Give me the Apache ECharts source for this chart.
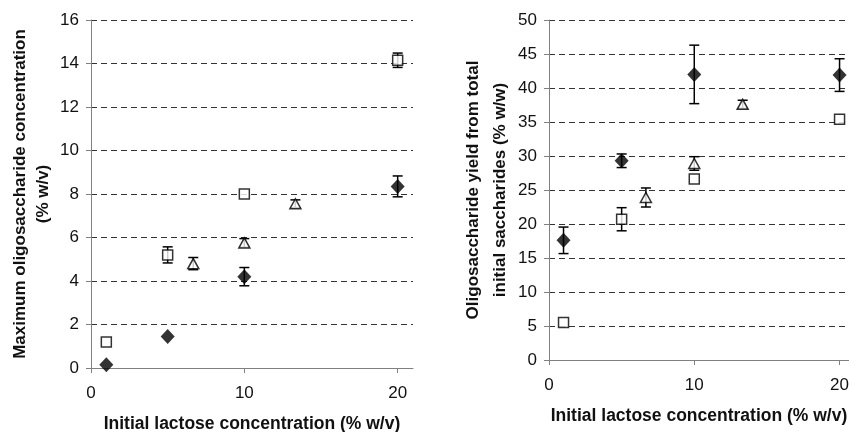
<!DOCTYPE html>
<html><head><meta charset="utf-8">
<script src="https://cdn.jsdelivr.net/npm/echarts@6/dist/echarts.min.js"></script>
<style>html,body{margin:0;padding:0;background:#fff}#c{width:849px;height:432px}</style>
</head><body><div id="c"></div>
<script>
// Data
const lactoseMain = [1, 5, 10, 20];
const lactoseTri = [6.67, 10, 13.33];
const xTickValues = [0, 10, 20];
// Left: maximum oligosaccharide concentration (% w/v)
const leftDiamond = [0.15, 1.45, 4.2, 8.35];
const leftDiamondErr = [0, 0, 0.42, 0.48];
const leftSquare = [1.2, 5.2, 8.0, 14.15];
const leftSquareErr = [0, 0.37, 0, 0.33];
const leftTriangle = [4.8, 5.75, 7.55];
const leftTriangleErr = [0.28, 0.2, 0.18];
// Right: oligosaccharide yield (% w/w)
const rightDiamond = [17.6, 29.3, 42.0, 41.9];
const rightDiamondErr = [1.95, 1.0, 4.3, 2.4];
const rightSquare = [5.5, 20.7, 26.6, 35.4];
const rightSquareErr = [0, 1.7, 0, 0];
const rightTriangle = [23.9, 28.9, 37.6];
const rightTriangleErr = [1.4, 1.0, 0.6];

const zip = (xs, ys, es) => xs.map((x, i) => [x, ys[i], es ? es[i] : 0]);

const FONT = 'Liberation Sans, Arial, sans-serif';

function errSeries(idx, data) {
  return {
    type: 'custom', xAxisIndex: idx, yAxisIndex: idx, z: 1, silent: true,
    data: data.filter(d => d[2] > 0),
    renderItem: function (params, api) {
      const x = api.value(0), y = api.value(1), e = api.value(2);
      const t = api.coord([x, y + e]);
      const b = api.coord([x, y - e]);
      const hw = 5;
      const st = { stroke: '#000', lineWidth: 1.5 };
      return { type: 'group', children: [
        { type: 'line', shape: { x1: t[0], y1: t[1], x2: b[0], y2: b[1] }, style: st },
        { type: 'line', shape: { x1: t[0] - hw, y1: t[1], x2: t[0] + hw, y2: t[1] }, style: st },
        { type: 'line', shape: { x1: b[0] - hw, y1: b[1], x2: b[0] + hw, y2: b[1] }, style: st }
      ]};
    }
  };
}
function scat(idx, data, kind) {
  const s = { type: 'scatter', xAxisIndex: idx, yAxisIndex: idx, z: 3, data: data.map(d => [d[0], d[1]]) };
  if (kind === 'diamond') { s.symbol = 'diamond'; s.symbolSize = [14, 15]; s.itemStyle = { color: '#000' }; }
  if (kind === 'square') { s.symbol = 'rect'; s.symbolSize = 10; s.itemStyle = { color: '#fff', borderColor: '#000', borderWidth: 1.5 }; }
  if (kind === 'triangle') { s.symbol = 'triangle'; s.symbolSize = [11, 10]; s.itemStyle = { color: '#fff', borderColor: '#000', borderWidth: 1.5 }; }
  return s;
}
function xAx(idx, max, gap) {
  return {
    gridIndex: idx, type: 'value', min: 0, max: max,
    name: 'Initial lactose concentration (% w/v)', nameLocation: 'middle', nameGap: gap,
    nameTextStyle: { fontFamily: FONT, fontWeight: 'bold', fontSize: 17.5, color: '#111' },
    axisLine: { lineStyle: { color: '#808080', width: 1 } },
    axisTick: { show: true, customValues: xTickValues, length: 5, inside: false, lineStyle: { color: '#808080' } },
    axisLabel: { customValues: xTickValues, margin: 17, fontFamily: FONT, fontSize: 17, color: '#111' },
    splitLine: { show: false }
  };
}
function yAx(idx, max, interval, name, gap, lh) {
  return {
    gridIndex: idx, type: 'value', min: 0, max: max, interval: interval,
    name: name, nameLocation: 'middle', nameGap: gap, nameRotate: 90,
    nameTextStyle: { fontFamily: FONT, fontWeight: 'bold', fontSize: 17, color: '#111', lineHeight: lh, align: 'center' },
    axisLine: { show: true, lineStyle: { color: '#808080', width: 1 } },
    axisTick: { show: true, length: 5, lineStyle: { color: '#808080' } },
    axisLabel: { margin: 12, fontFamily: FONT, fontSize: 17, color: '#111' },
    splitLine: { show: true, lineStyle: { color: '#333', type: [6, 4], width: 1 } }
  };
}

const chart = echarts.init(document.getElementById('c'), null, { renderer: 'canvas' });
chart.setOption({
  animation: false,
  backgroundColor: '#fff',
  grid: [
    { left: 91, right: 436, top: 20, bottom: 64, containLabel: false, outerBoundsMode: 'none' },
    { left: 549, right: 0, top: 20, bottom: 72, containLabel: false, outerBoundsMode: 'none' }
  ],
  xAxis: [xAx(0, 21, 47), xAx(1, 20.65, 47)],
  yAxis: [
    yAx(0, 16, 2, 'Maximum oligosaccharide concentration\n(% w/v)', 36, 23),
    yAx(1, 50, 5, 'Oligosaccharide yield from total\ninitial saccharides (% w/w)', 35, 27)
  ],
  series: [
    errSeries(0, zip(lactoseMain, leftDiamond, leftDiamondErr)),
    errSeries(0, zip(lactoseMain, leftSquare, leftSquareErr)),
    errSeries(0, zip(lactoseTri, leftTriangle, leftTriangleErr)),
    scat(0, zip(lactoseMain, leftDiamond), 'diamond'),
    scat(0, zip(lactoseMain, leftSquare), 'square'),
    scat(0, zip(lactoseTri, leftTriangle), 'triangle'),
    errSeries(1, zip(lactoseMain, rightDiamond, rightDiamondErr)),
    errSeries(1, zip(lactoseMain, rightSquare, rightSquareErr)),
    errSeries(1, zip(lactoseTri, rightTriangle, rightTriangleErr)),
    scat(1, zip(lactoseMain, rightDiamond), 'diamond'),
    scat(1, zip(lactoseMain, rightSquare), 'square'),
    scat(1, zip(lactoseTri, rightTriangle), 'triangle')
  ]
});
</script></body></html>
